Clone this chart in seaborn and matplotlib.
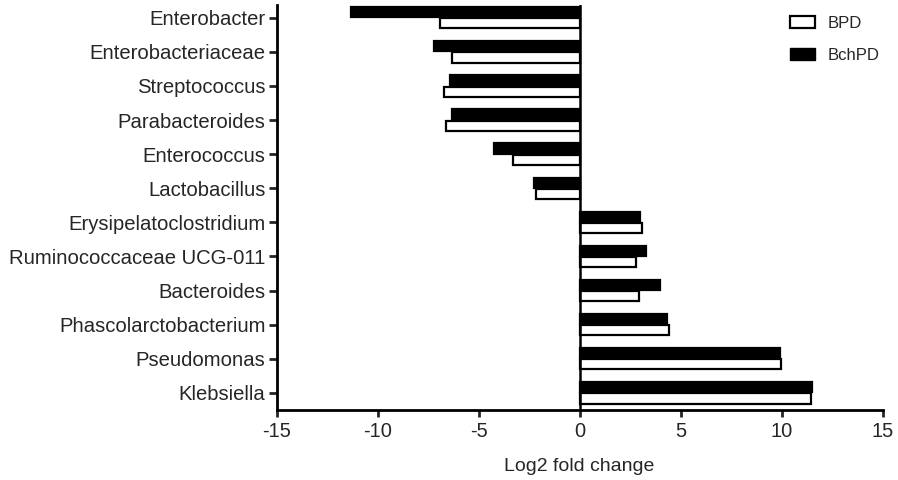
import matplotlib
matplotlib.use("Agg")
import matplotlib.pyplot as plt
import seaborn as sns
import pandas as pd
from matplotlib.patches import Patch

categories = ["Enterobacter", "Enterobacteriaceae", "Streptococcus", "Parabacteroides",
              "Enterococcus", "Lactobacillus", "Erysipelatoclostridium",
              "Ruminococcaceae UCG-011", "Bacteroides", "Phascolarctobacterium",
              "Pseudomonas", "Klebsiella"]
bpd = [-6.9, -6.3, -6.7, -6.6, -3.3, -2.15, 3.07, 2.8, 2.94, 4.43, 9.95, 11.45]
bchpd = [-11.3, -7.2, -6.4, -6.3, -4.26, -2.26, 2.98, 3.3, 4.0, 4.33, 9.92, 11.5]
groups = ["BchPD", "BPD"]

df = pd.DataFrame({
    "category": categories * 2,
    "value": bchpd + bpd,
    "group": ["BchPD"] * len(categories) + ["BPD"] * len(categories),
})

sns.set_style("white")
plt.rcParams["font.family"] = ["Liberation Sans", "DejaVu Sans"]
plt.rcParams["axes.unicode_minus"] = False

fig = plt.figure(figsize=(8.98, 4.8), dpi=100)
ax = fig.add_axes([0.308, 0.146, 0.675, 0.844])

sns.barplot(data=df, y="category", x="value", hue="group", hue_order=groups,
            order=categories, orient="h", palette={"BchPD": "black", "BPD": "white"},
            width=0.66, gap=0.1, ax=ax, legend=False, edgecolor="black", linewidth=1.6)

ax.axvline(0, color="black", lw=1.8, zorder=5)
ax.set_xlim(-15, 15)
ax.set_ylim(11.5, -0.38)
ax.set_xticks([-15, -10, -5, 0, 5, 10, 15])
ax.set_xlabel("Log2 fold change", fontsize=14, labelpad=12)
ax.set_ylabel("")
for s in ["top", "right"]:
    ax.spines[s].set_visible(False)
for s in ["left", "bottom"]:
    ax.spines[s].set_linewidth(2)
    ax.spines[s].set_color("black")
ax.tick_params(axis="x", direction="out", length=5, width=2, labelsize=14.5, bottom=True, pad=4)
ax.tick_params(axis="y", direction="out", length=6, width=2, labelsize=14.6, left=True, pad=2)

handles = [Patch(facecolor="white", edgecolor="black", linewidth=1.6, label="BPD"),
           Patch(facecolor="black", edgecolor="black", label="BchPD")]
ax.legend(handles=handles, loc="upper right", bbox_to_anchor=(1.02, 1.01), frameon=False,
          fontsize=12, handlelength=1.5, handleheight=0.8, labelspacing=1.0, handletextpad=0.8)

fig.savefig("out.png", dpi=100)
